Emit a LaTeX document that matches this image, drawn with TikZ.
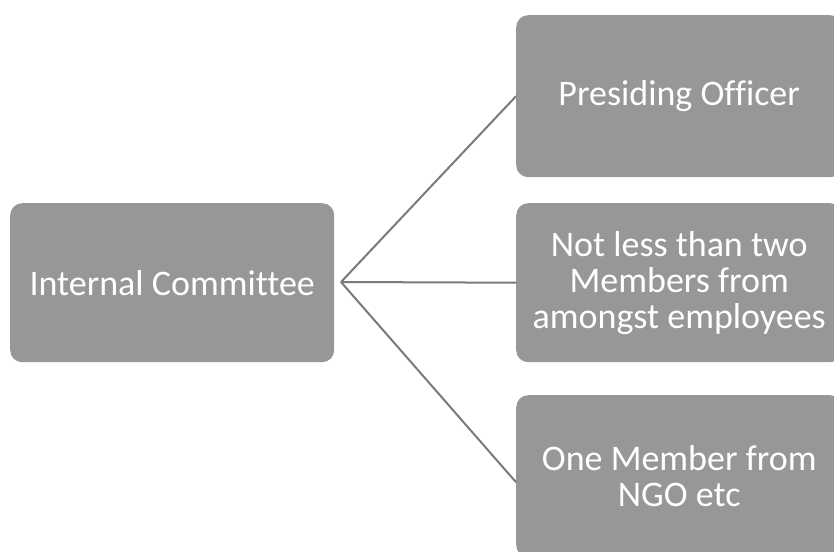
\documentclass[tikz,border=0pt]{standalone}
\usepackage{fontspec}
\setmainfont[Ligatures=CommonOff]{Carlito}
\definecolor{boxfill}{HTML}{979797}
\definecolor{linkgray}{HTML}{7A7A7A}
\begin{document}
\begin{tikzpicture}[x=1pt,y=-1pt,
  boxnode/.style={draw=none, fill=boxfill, rounded corners=12pt, text=white,
    align=center, font=\fontsize{36}{36}\selectfont, inner sep=0pt},
  link/.style={draw=linkgray, line width=2pt}]
  \useasboundingbox (0,0) rectangle (834,551);
  \clip (0,0) rectangle (834,551);
  % committee box on the left
  \node[boxnode, minimum width=324pt, minimum height=159pt, anchor=north west]
    (ic) at (10,203) {Internal Committee};
  % member boxes on the right, running past the edge
  \node[boxnode, minimum width=326pt, minimum height=162pt, anchor=north west]
    (po) at (516,15) {Presiding Officer};
  \node[boxnode, minimum width=326pt, minimum height=159pt, anchor=north west]
    (emp) at (516,203) {\parbox{320pt}{\centering Not less than two\\Members from\\amongst employees}};
  \node[boxnode, minimum width=326pt, minimum height=162pt, anchor=north west]
    (ngo) at (516,395) {\raisebox{4pt}{\parbox{320pt}{\centering One Member from\\NGO etc}}};
  % fan of connectors
  \coordinate (hub) at (341,282);
  \draw[link] (hub) -- (po.west);
  \draw[link] (hub) -- (emp.west);
  \draw[link] (hub) -- ([yshift=-6pt]ngo.west);
\end{tikzpicture}
\end{document}
